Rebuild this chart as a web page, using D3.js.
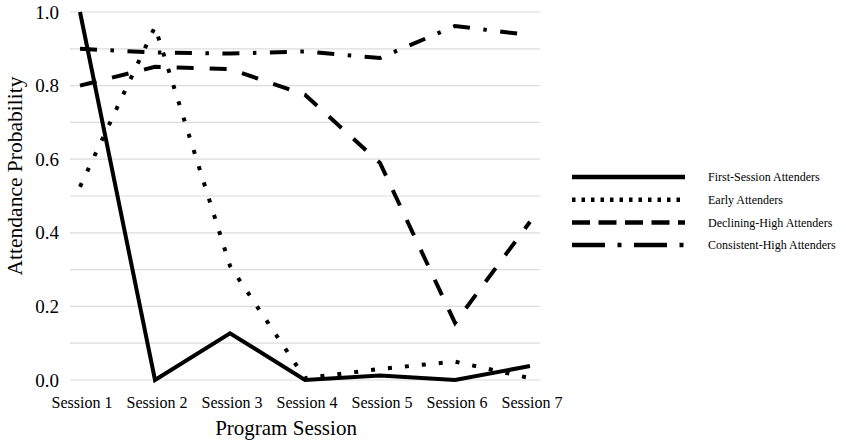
<!DOCTYPE html>
<html>
<head>
<meta charset="utf-8">
<script src="https://cdn.jsdelivr.net/npm/d3@7"></script>
<style>
  body { margin: 0; background: #fff; }
  svg text { font-family: "Liberation Serif", "Times New Roman", serif; fill: #000; }
</style>
</head>
<body>
<svg id="chart" width="846" height="446"></svg>
<script>
// data
const sessions = ["Session 1", "Session 2", "Session 3", "Session 4", "Session 5", "Session 6", "Session 7"];
const firstSession = [1.0, 0.0, 0.127, 0.0, 0.012, 0.0, 0.038];
const early = [0.525, 0.96, 0.31, 0.005, 0.03, 0.05, 0.005];
const decliningHigh = [0.80, 0.851, 0.845, 0.775, 0.59, 0.155, 0.43];
const consistentHigh = [0.90, 0.89, 0.887, 0.893, 0.875, 0.962, 0.937];
const yTicks = [0, 0.2, 0.4, 0.6, 0.8, 1.0];
const yGrid = d3.range(0, 11).map(i => i / 10);

const series = [
    { name: "First-Session Attenders", values: firstSession, dash: null, legendDash: null },
    { name: "Early Attenders", values: early, dash: "4,13", legendDash: "3.5,6" },
    { name: "Declining-High Attenders", values: decliningHigh, dash: "17,16", legendDash: "18,8.5" },
    { name: "Consistent-High Attenders", values: consistentHigh, dash: "17,13.5,3.5,13.5", legendDash: "33,12.5,4,12.5" }
];

const svg = d3.select("#chart");

const x = d3.scalePoint()
    .domain(sessions)
    .range([80, 530]);

const y = d3.scaleLinear()
    .domain([0, 1])
    .range([380, 12]);

// grid
svg.append("g")
    .selectAll("line")
    .data(yGrid)
    .enter()
    .append("line")
    .attr("x1", 70)
    .attr("x2", 540)
    .attr("y1", d => y(d))
    .attr("y2", d => y(d))
    .attr("stroke", "#dcdcdc")
    .attr("stroke-width", 1.2);

// y tick labels
svg.append("g")
    .selectAll("text")
    .data(yTicks)
    .enter()
    .append("text")
    .attr("x", 59)
    .attr("y", d => y(d))
    .attr("dy", "0.35em")
    .attr("text-anchor", "end")
    .style("font-size", "19px")
    .text(d3.format(".1f"));

// x tick labels
svg.append("g")
    .selectAll("text")
    .data(sessions)
    .enter()
    .append("text")
    .attr("x", d => x(d) + 2)
    .attr("y", 408)
    .attr("text-anchor", "middle")
    .style("font-size", "16px")
    .text(d => d);

// axis titles
svg.append("text")
    .attr("x", 286)
    .attr("y", 435)
    .attr("text-anchor", "middle")
    .style("font-size", "21px")
    .text("Program Session");

svg.append("text")
    .attr("transform", "translate(22,176) rotate(-90)")
    .attr("text-anchor", "middle")
    .style("font-size", "21.5px")
    .text("Attendance Probability");

// lines
const line = d3.line()
    .x((d, i) => x(sessions[i]))
    .y(d => y(d));

svg.append("g")
    .selectAll("path")
    .data(series)
    .enter()
    .append("path")
    .attr("d", d => line(d.values))
    .attr("fill", "none")
    .attr("stroke", "#000")
    .attr("stroke-width", 4)
    .attr("stroke-linejoin", "miter")
    .attr("stroke-dasharray", d => d.dash);

// legend
const legend = svg.append("g")
    .selectAll("g")
    .data(series)
    .enter()
    .append("g")
    .attr("transform", (d, i) => `translate(572,${177 + i * 22.7})`);

legend.append("line")
    .attr("x1", 0)
    .attr("x2", 113)
    .attr("stroke", "#000")
    .attr("stroke-width", 4.5)
    .attr("stroke-dasharray", d => d.legendDash);

legend.append("text")
    .attr("x", 136)
    .attr("dy", "0.35em")
    .style("font-size", "12px")
    .text(d => d.name);
</script>
</body>
</html>
